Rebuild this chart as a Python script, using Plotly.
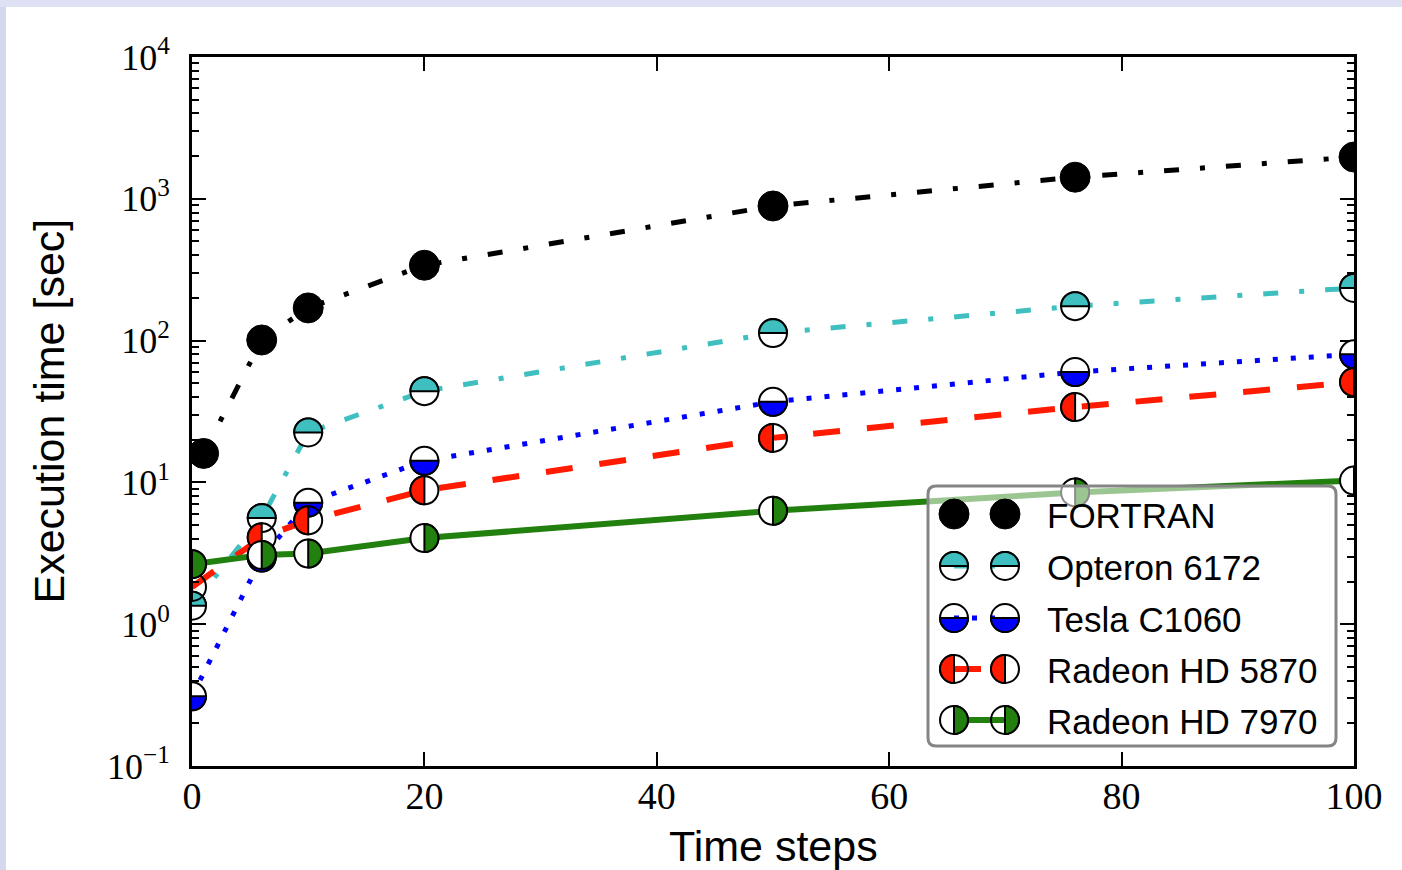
import math
import plotly.graph_objects as go

# ---- data -----------------------------------------------------------------
steps_fortran = [1, 6, 10, 20, 50, 76, 100]
steps = [0, 6, 10, 20, 50, 76, 100]

fortran = [16, 101, 170, 340, 890, 1420, 1970]
opteron = [1.35, 5.6, 22.5, 44, 113, 175, 235]
tesla = [0.31, 2.95, 7.2, 14.2, 37, 60, 80]
radeon5870 = [1.83, 4.1, 5.4, 8.8, 20.6, 34, 51]
radeon7970 = [2.65, 3.08, 3.15, 4.05, 6.3, 8.5, 10.3]

series_names = ["FORTRAN", "Opteron 6172", "Tesla C1060",
                "Radeon HD 5870", "Radeon HD 7970"]

x_tick_vals = [0, 20, 40, 60, 80, 100]
y_tick_vals = [0.1, 1, 10, 100, 1000, 10000]
y_tick_text = ["10<sup>\u22121</sup>", "10<sup>0</sup>", "10<sup>1</sup>",
               "10<sup>2</sup>", "10<sup>3</sup>", "10<sup>4</sup>"]

# ---- styles ---------------------------------------------------------------
DASHDOT = "15px,21px,5px,21px"
styles = [
    dict(color="black", dash=DASHDOT, width=5, fill="full", alt=None, r=15),
    dict(color="#3fbfbf", dash=DASHDOT, width=5, fill="top", alt="white", r=14),
    dict(color="#0000ff", dash="5px,13px", width=5, fill="bottom", alt="white", r=14),
    dict(color="#ff1a00", dash="27px,27px", width=6, fill="left",
         alt="rgba(255,255,255,0)", r=14),
    dict(color="#22800f", dash="solid", width=6, fill="right", alt="white", r=14),
]

series_x = [steps_fortran, steps, steps, steps, steps]
series_y = [fortran, opteron, tesla, radeon5870, radeon7970]

SANS = "Liberation Sans, Arial, sans-serif"
SERIF = "Liberation Serif, Times New Roman, serif"

X_RANGE = [0, 100]
Y_DECADES = [-1, 4]          # log10 range of the y axis

# plot-area geometry in pixels
PL, PR, PT, PB = 192, 1354, 57, 766
W, H = 1402, 870


def pxx(xp):
    return (xp - PL) / (PR - PL)


def pxy(yp):
    return (PB - yp) / (PB - PT)


def half_disc(side, r, n=28):
    """Polygon for a filled half circle, in pixels around the anchor (y up)."""
    start = {"top": 0.0, "bottom": math.pi, "left": math.pi / 2,
             "right": -math.pi / 2}[side]
    pts = []
    for i in range(n + 1):
        a = start + math.pi * i / n
        pts.append((r * math.cos(a), r * math.sin(a)))
    d = "M %.2f,%.2f " % pts[0]
    d += " ".join("L %.2f,%.2f" % p for p in pts[1:])
    return d + " Z"


def marker_shapes(xref, yref, xa, ya, st):
    r = st["r"]
    common = dict(xref=xref, yref=yref, xsizemode="pixel", ysizemode="pixel",
                  xanchor=xa, yanchor=ya, layer="above")
    if st["fill"] == "full":
        return [dict(type="circle", x0=-r, x1=r, y0=-r, y1=r,
                     fillcolor=st["color"], line=dict(color=st["color"], width=1),
                     **common)]
    return [
        dict(type="circle", x0=-r, x1=r, y0=-r, y1=r, fillcolor=st["alt"],
             line=dict(color="black", width=2), **common),
        dict(type="path", path=half_disc(st["fill"], r), fillcolor=st["color"],
             line=dict(color="black", width=2), **common),
    ]


fig = go.Figure()

# connecting lines on the logarithmic axis
for name, xs, ys, st in zip(series_names, series_x, series_y, styles):
    fig.add_trace(go.Scatter(
        x=xs, y=ys, mode="lines", name=name, showlegend=False,
        line=dict(color=st["color"], width=st["width"], dash=st["dash"]),
    ))

# hidden linear companion axes (x, log10 y) that carry the marker glyphs
fig.add_trace(go.Scatter(
    x=steps, y=[math.log10(v) for v in radeon7970], xaxis="x2", yaxis="y2",
    mode="lines", line=dict(width=0, color="rgba(0,0,0,0)"),
    hoverinfo="skip", showlegend=False,
))

shapes = []

# page background bands
shapes.append(dict(type="rect", xref="paper", yref="paper",
                   x0=pxx(0), x1=pxx(W), y0=pxy(7), y1=pxy(0),
                   fillcolor="#dee1f4", line=dict(width=0), layer="below"))
shapes.append(dict(type="rect", xref="paper", yref="paper",
                   x0=pxx(0), x1=pxx(6), y0=pxy(H), y1=pxy(7),
                   fillcolor="#d5d9f0", line=dict(width=0), layer="below"))

# half-filled point markers
for xs, ys, st in zip(series_x, series_y, styles):
    for xv, yv in zip(xs, ys):
        shapes += marker_shapes("x2", "y2", xv, math.log10(yv), st)

# legend frame
BX0, BY0, BX1, BY1, RAD = 928, 486, 1336, 746, 8
bw, bh = BX1 - BX0, BY1 - BY0
frame = ("M {r},0 L {a},0 Q {w},0 {w},{r} L {w},{b} Q {w},{h} {a},{h} "
         "L {r},{h} Q 0,{h} 0,{b} L 0,{r} Q 0,0 {r},0 Z").format(
    r=RAD, a=bw - RAD, w=bw, b=bh - RAD, h=bh)
shapes.append(dict(type="path", path=frame, xref="paper", yref="paper",
                   xsizemode="pixel", ysizemode="pixel",
                   xanchor=pxx(BX0), yanchor=pxy(BY1),
                   fillcolor="rgba(255,255,255,0.55)",
                   line=dict(color="#858585", width=3), layer="above"))

# legend handles: line segment between two markers, then label
LX1, LX2, LTX = 954, 1005, 1045
row_y = [514, 566, 618, 669, 720]
annotations = []
for name, st, ry in zip(series_names, styles, row_y):
    shapes.append(dict(type="line", xref="paper", yref="paper",
                       x0=pxx(LX1), x1=pxx(LX2), y0=pxy(ry), y1=pxy(ry),
                       line=dict(color=st["color"], width=st["width"],
                                 dash=st["dash"]), layer="above"))
    for lx in (LX1, LX2):
        leg_st = dict(st)
        if leg_st["alt"] is not None:
            leg_st["alt"] = "rgba(255,255,255,0)"
        shapes += marker_shapes("paper", "paper", pxx(lx), pxy(ry), leg_st)
    annotations.append(dict(text=name, xref="paper", yref="paper",
                            x=pxx(LTX), y=pxy(ry + 1), xanchor="left",
                            yanchor="middle", showarrow=False,
                            font=dict(family=SANS, size=35, color="black")))

# axis titles
annotations.append(dict(text="Time steps", xref="paper", yref="paper",
                        x=0.5, y=pxy(846), xanchor="center", yanchor="middle",
                        showarrow=False,
                        font=dict(family=SANS, size=43, color="black")))
annotations.append(dict(text="Execution time [sec]", xref="paper", yref="paper",
                        x=pxx(48), y=0.5, xanchor="center", yanchor="middle",
                        textangle=-90, showarrow=False,
                        font=dict(family=SANS, size=43, color="black")))

fig.update_layout(
    width=W, height=H, autosize=False,
    margin=dict(l=PL, r=W - PR, t=PT, b=H - PB, pad=0),
    paper_bgcolor="white", plot_bgcolor="white",
    showlegend=False,
    shapes=shapes, annotations=annotations,
    xaxis2=dict(overlaying="x", anchor="y2", range=X_RANGE, visible=False,
                showgrid=False, zeroline=False, fixedrange=True),
    yaxis2=dict(overlaying="y", anchor="x2", range=Y_DECADES, visible=False,
                showgrid=False, zeroline=False, fixedrange=True),
)

fig.update_layout(xaxis=dict(
    range=X_RANGE, showgrid=False, zeroline=False,
    showline=True, linewidth=3, linecolor="black", mirror="allticks",
    ticks="inside", ticklen=14, tickwidth=2, tickcolor="black",
    tickmode="array", tickvals=x_tick_vals,
    tickfont=dict(family=SERIF, size=38, color="black"),
    ticklabelstandoff=-6,
))

fig.update_layout(yaxis=dict(
    type="log", range=Y_DECADES, showgrid=False, zeroline=False,
    showline=True, linewidth=3, linecolor="black", mirror="allticks",
    ticks="inside", ticklen=14, tickwidth=2, tickcolor="black",
    tickmode="array", tickvals=y_tick_vals, ticktext=y_tick_text,
    tickfont=dict(family=SERIF, size=36, color="black"),
    ticklabelstandoff=12,
    minor=dict(ticks="inside", ticklen=7, tickwidth=2, tickcolor="black",
               dtick="D1", showgrid=False),
))

fig.write_html("out.html")
